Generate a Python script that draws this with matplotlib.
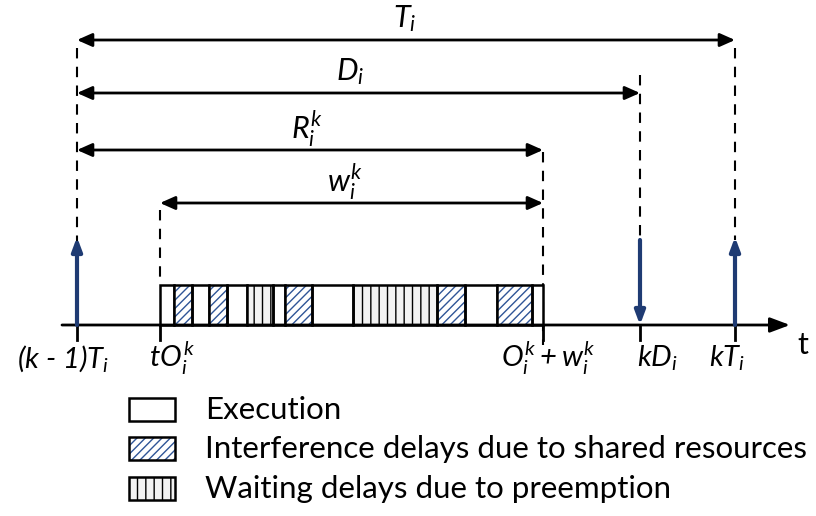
import matplotlib.pyplot as plt
from matplotlib.patches import Rectangle

plt.rcParams['font.family'] = ['Lato', 'DejaVu Sans']
plt.rcParams['mathtext.fontset'] = 'custom'
plt.rcParams['mathtext.rm'] = 'Lato:italic'
plt.rcParams['mathtext.it'] = 'Lato:italic'
plt.rcParams['hatch.linewidth'] = 1.0

# time marks on the axis (pixel-like units)
tick_pos = [77, 160, 543, 640, 735]
tick_labels = ['$(k$ - $1)T_i$', '$tO_i^k$', '$O_i^k + w_i^k$', '$kD_i$', '$kT_i$']
label_x = [63, 172, 548, 657, 727]

# execution bar segments: start, end, kind
seg_start = [160, 174, 192, 209, 227, 247, 273, 285, 312, 353, 437, 465, 497, 532]
seg_end = [174, 192, 209, 227, 247, 273, 285, 312, 353, 437, 465, 497, 532, 543]
seg_kind = ['exe', 'int', 'exe', 'int', 'exe', 'wait', 'exe', 'int', 'exe', 'wait',
            'int', 'exe', 'int', 'exe']

# interval arrows: name, from, to, height
span_names = ['$T_i$', '$D_i$', '$R_i^k$', '$w_i^k$']
span_from = [77, 77, 77, 160]
span_to = [735, 640, 543, 543]
span_y = [40, 93, 150, 203]
span_lbl_x = [405, 350, 307, 345]

legend_names = ['Execution', 'Interference delays due to shared resources',
                'Waiting delays due to preemption']

blue = '#1F3B73'
hatch_blue = '#2F5597'

fig = plt.figure(figsize=(8.16, 5.16), dpi=100)
ax = fig.add_axes([0, 0, 1, 1])
ax.set_xlim(0, 816)
ax.set_ylim(516, 0)
ax.axis('off')

axis_y = 325
bar_top = 285


def draw_box(x0, x1, y0, y1, kind):
    if kind == 'exe':
        ax.add_patch(Rectangle((x0, y0), x1 - x0, y1 - y0, facecolor='white',
                               edgecolor='black', lw=1.8, zorder=3))
    elif kind == 'int':
        ax.add_patch(Rectangle((x0, y0), x1 - x0, y1 - y0, facecolor='white',
                               edgecolor=hatch_blue, hatch='////', lw=0, zorder=3))
        ax.add_patch(Rectangle((x0, y0), x1 - x0, y1 - y0, fill=False,
                               edgecolor='black', lw=1.8, zorder=4))
    else:
        ax.add_patch(Rectangle((x0, y0), x1 - x0, y1 - y0, facecolor='#f2f2f2',
                               edgecolor='black', hatch='||', lw=0, zorder=3))
        ax.add_patch(Rectangle((x0, y0), x1 - x0, y1 - y0, fill=False,
                               edgecolor='black', lw=1.8, zorder=4))


for s, e, k in zip(seg_start, seg_end, seg_kind):
    draw_box(s, e, bar_top, axis_y, k)

# time axis
ax.annotate('', xy=(790, axis_y), xytext=(62, axis_y),
            arrowprops=dict(arrowstyle='-|>,head_length=1.2,head_width=0.45',
                            color='black', lw=2, shrinkA=0, shrinkB=0), zorder=5)
ax.text(803, 345, 't', fontsize=22, ha='center', va='center')

for p in tick_pos:
    ax.plot([p, p], [axis_y, axis_y + 15], color='black', lw=2, zorder=5)
for lx, lb in zip(label_x, tick_labels):
    ax.text(lx, 358, lb, fontsize=21, style='italic', ha='center', va='center')

# dashed guide lines
dash_x = [77, 735, 640, 543, 160]
dash_top = [48, 48, 75, 152, 210]
dash_bot = [325, 240, 240, 345, 285]
for x, t, b in zip(dash_x, dash_top, dash_bot):
    ax.plot([x, x], [t, b], color='black', lw=1.5, ls=(0, (5, 4)), zorder=2)

# release / deadline arrows
rel = [(77, 'up'), (640, 'down'), (735, 'up')]
for x, d in rel:
    if d == 'up':
        a, b = (x, axis_y), (x, 237)
    else:
        a, b = (x, 240), (x, axis_y)
    ax.annotate('', xy=b, xytext=a,
                arrowprops=dict(arrowstyle='-|>,head_length=0.8,head_width=0.3',
                                color=blue, lw=3, shrinkA=0, shrinkB=0), zorder=6)

# interval arrows
for nm, f, t, y, lx in zip(span_names, span_from, span_to, span_y, span_lbl_x):
    ax.annotate('', xy=(t, y), xytext=(f, y),
                arrowprops=dict(arrowstyle='<|-|>,head_length=0.9,head_width=0.4',
                                color='black', lw=2, shrinkA=0, shrinkB=0))
    ax.text(lx, y - 21, nm, fontsize=22, ha='center', va='center')

# legend
leg_y = [410, 449, 489]
for nm, y, k in zip(legend_names, leg_y, ['exe', 'int', 'wait']):
    draw_box(129, 175, y - 12, y + 11, k)
    ax.text(205, y, nm, fontsize=22.5, ha='left', va='center')

fig.savefig('out.png', dpi=100)
